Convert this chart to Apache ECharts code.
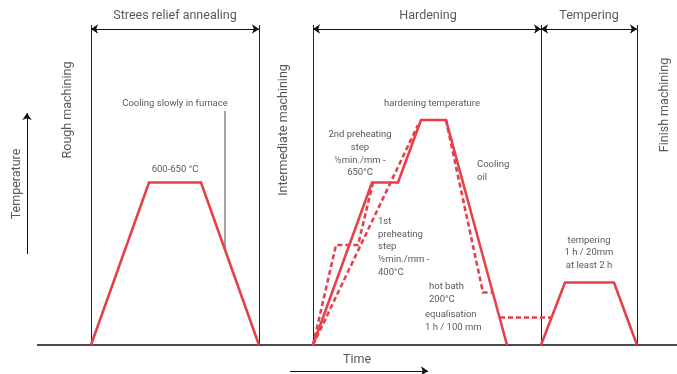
<!DOCTYPE html>
<html>
<head>
<meta charset="utf-8">
<script src="https://cdn.jsdelivr.net/npm/echarts@6/dist/echarts.min.js"></script>
<style>
  html, body { margin: 0; padding: 0; background: #fff; }
  #main { width: 677px; height: 374px; }
</style>
</head>
<body>
<div id="main"></div>
<script>
// time in arbitrary units, temperature in °C
var phaseBounds = [54, 222, 276, 504, 600];
var phaseTop = 1280;
var arrowLevel = 1264;
var phaseArrows = [[54, 222], [276, 504], [504, 600]];

// stress relief annealing
var annealTime = [54, 112, 164, 222];
var annealTemp = [0, 650, 650, 0];
// hardening, solid profile
var hardTime = [276, 335, 361, 384, 409, 470];
var hardTemp = [0, 650, 650, 900, 900, 0];
// hardening, dashed variants
var directTime = [276, 381];
var directTemp = [0, 880];
var stepTime = [276, 299, 321, 336];
var stepTemp = [0, 400, 400, 650];
var oilTime = [409, 446, 455];
var oilTemp = [900, 210, 210];
var bathTime = [463, 515];
var bathTemp = [110, 110];
// tempering
var tempTime = [504, 528, 577, 600];
var tempTemp = [0, 250, 250, 0];
// leader for "Cooling slowly in furnace"
var leaderTime = [188, 188];
var leaderTemp = [936, 388];

var headers = [
  [138, 1316, "Strees relief annealing"],
  [391, 1316, "Hardening"],
  [552, 1316, "Tempering"],
  [320, -60, "Time"]
];
var sideLabels = [
  [31, 940, "Rough machining"],
  [247, 860, "Intermediate machining"],
  [628, 960, "Finish machining"],
  [-20, 644, "Temperature"]
];
var notesCenter = [
  [138, 964, "Cooling slowly in furnace"],
  [138, 700, "600-650 °C"],
  [395, 964, "hardening temperature"],
  [323, 764, "2nd preheating\nstep\n½min./mm -\n650°C"],
  [552, 368, "tempering\n1 h / 20mm\nat least 2 h"]
];
var notesLeft = [
  [440, 696, "Cooling\noil"],
  [341, 392, "1st\npreheating\nstep\n½min./mm -\n400°C"],
  [392, 208, "hot bath\n200°C"],
  [388, 96, "equalisation\n1 h / 100 mm"]
];

function zip(xs, ys) {
  return xs.map(function (x, i) { return [x, ys[i]]; });
}

var RED = "#e8404b";
var INK = "#2e2e2e";
var FONT = "Roboto";

function profile(xs, ys, dashed) {
  return {
    type: "line",
    data: zip(xs, ys),
    symbol: "none",
    silent: true,
    z: 5,
    lineStyle: { color: RED, width: 2.6, type: dashed ? [5, 3] : "solid", join: "miter" }
  };
}

function textSeries(items, size, lh, align, rotate) {
  return {
    type: "scatter",
    symbolSize: 0,
    silent: true,
    data: items.map(function (d) { return { value: [d[0], d[1]], name: d[2] }; }),
    label: {
      show: true,
      position: "inside",
      formatter: function (p) { return p.name; },
      color: INK,
      fontFamily: FONT,
      fontSize: size,
      lineHeight: lh,
      align: align,
      verticalAlign: "middle",
      rotate: rotate || 0
    }
  };
}

var chart = echarts.init(document.getElementById("main"));
var option = {
  animation: false,
  grid: { left: 0, right: 0, top: 0, bottom: 0 },
  xAxis: { type: "value", min: -37, max: 640, show: false },
  yAxis: { type: "value", min: -116, max: 1380, show: false },
  series: [
    // base line of the diagram
    {
      type: "lines",
      coordinateSystem: "cartesian2d",
      silent: true,
      clip: false,
      lineStyle: { color: "#111", width: 1.5, opacity: 1 },
      data: [{ coords: [[0, 0], [640, 0]] }]
    },
    // phase boundaries
    {
      type: "lines",
      coordinateSystem: "cartesian2d",
      silent: true,
      clip: false,
      lineStyle: { color: "#222", width: 1, opacity: 1 },
      data: phaseBounds.map(function (t) { return { coords: [[t, 0], [t, phaseTop]] }; })
    },
    // phase arrows
    {
      type: "lines",
      coordinateSystem: "cartesian2d",
      silent: true,
      clip: false,
      symbol: ["arrow", "arrow"],
      symbolSize: 7,
      lineStyle: { color: "#111", width: 1, opacity: 1 },
      data: phaseArrows.map(function (p) { return { coords: [[p[0], arrowLevel], [p[1], arrowLevel]] }; })
    },
    // axis arrows
    {
      type: "lines",
      coordinateSystem: "cartesian2d",
      silent: true,
      clip: false,
      symbol: ["none", "arrow"],
      symbolSize: 7,
      lineStyle: { color: "#111", width: 1, opacity: 1 },
      data: [
        { coords: [[-10, 364], [-10, 928]] },
        { coords: [[253, -104], [391, -104]] }
      ]
    },
    {
      type: "line",
      data: zip(leaderTime, leaderTemp),
      symbol: "none",
      silent: true,
      lineStyle: { color: "#444", width: 1 }
    },
    profile(annealTime, annealTemp, false),
    profile(hardTime, hardTemp, false),
    profile(directTime, directTemp, true),
    profile(stepTime, stepTemp, true),
    profile(oilTime, oilTemp, true),
    profile(bathTime, bathTemp, true),
    profile(tempTime, tempTemp, false),
    textSeries(headers, 12.5, 16, "center", 0),
    textSeries(sideLabels, 12.5, 16, "center", 90),
    textSeries(notesCenter, 9.5, 12.7, "center", 0),
    textSeries(notesLeft, 9.5, 12.8, "left", 0)
  ]
};
chart.setOption(option);
</script>
</body>
</html>
